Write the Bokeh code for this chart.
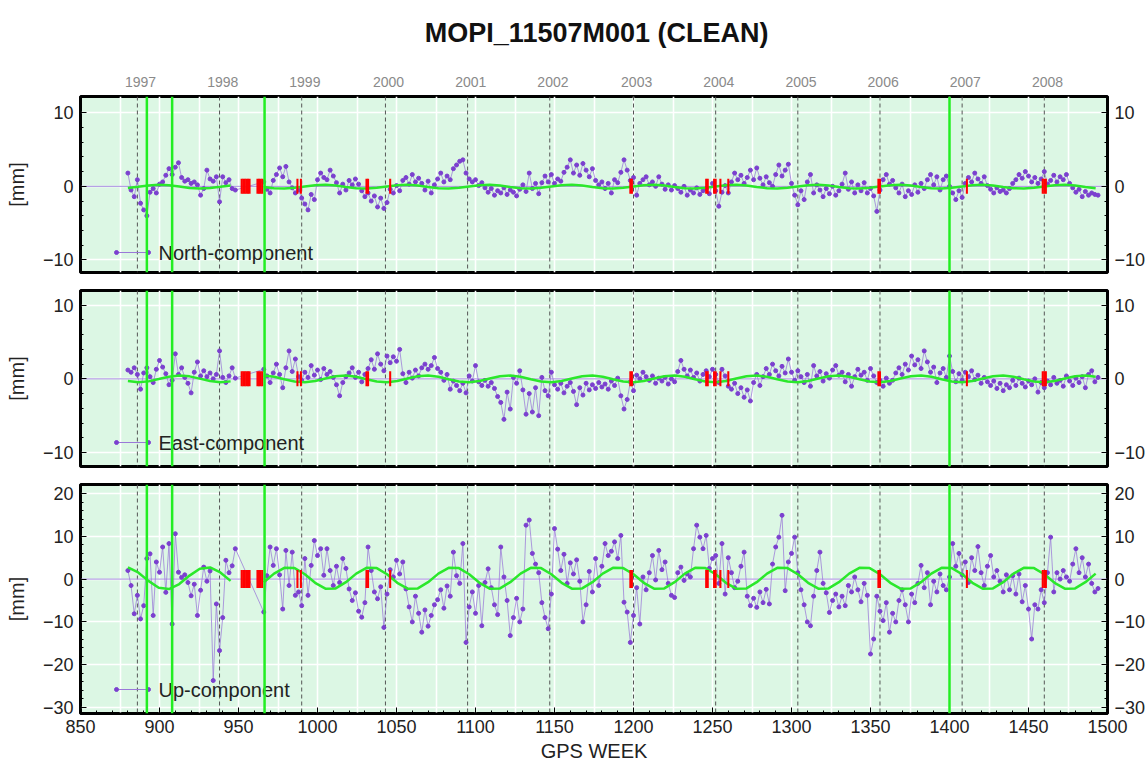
import numpy as np
from bokeh.plotting import figure
from bokeh.layouts import column
from bokeh.models import (Range1d, LinearAxis, FixedTicker, SingleIntervalTicker, Span)
from bokeh.embed import file_html
from bokeh.resources import INLINE
from bokeh.core.properties import value

# ---------------- data ----------------
TITLE = "MOPI_11507M001 (CLEAN)"
year_labels = ["1997", "1998", "1999", "2000", "2001", "2002", "2003", "2004", "2005", "2006", "2007", "2008"]
year_weeks = [886, 938, 990, 1043, 1095, 1147, 1200, 1252, 1304, 1356, 1408, 1460]
break_weeks = [892, 908, 966.5, 1400]          # green vertical lines
offset_weeks = [952, 953, 954, 955, 956, 957, 962, 963, 964, 965, 987.3, 989.5,
                1031, 1032, 1046, 1198, 1199, 1246, 1247, 1251, 1252, 1255, 1260,
                1355, 1356, 1411, 1459, 1460, 1461]   # red markers
components = ["North-component", "East-component", "Up-component"]

weeks = list(range(880, 949, 2)) + list(range(966, 1495, 2))

north = [
    1.8, -0.5, -1.4, 0.9, -2.3, -3.2, -4.0, -0.8, -0.3, -0.9,
    0.3, 0.6, 1.5, 2.4, 1.6, 2.6, 3.2, 1.2, 0.7, 0.9,
    0.4, 0.6, 0.2, -1.2, -0.3, 2.2, 1.0, 0.7, 1.3, -2.1,
    1.3, 0.5, 0.9, -0.3, -0.5,
    0.6, -0.4, -0.9, 0.8, 1.6, 2.5, 1.3, 2.7, 0.6, -0.2,
    -0.9, -0.5, -1.6, -2.4, -3.2, -1.1, -1.8, 0.9, 1.8, 1.2,
    0.9, 2.2, 1.4, 0.5, -0.9, 0.3, -0.5, 0.8, 0.2, 1.0,
    0.3, -0.6, -1.4, -0.9, -2.0, -1.3, -2.8, -1.6, -3.0, -2.2,
    -0.4, -0.9, 0.1, -0.6, 0.8, 1.2, 0.3, 1.6, 0.6, 1.1,
    0.4, -0.5, 0.7, -0.9, 0.2, 1.0, 1.8, 0.6, 1.4, 0.9,
    2.4, 2.9, 3.4, 3.6, 1.8, 1.0, 0.6, 0.9, 0.1, 0.5,
    -0.2, -0.8, -0.3, -1.2, -0.6, -0.9, -0.2, -1.1, -0.5, -0.8,
    -1.3, -0.4, 0.2, -0.7, 1.8, -0.3, 0.4, -1.0, 0.5, 1.4,
    0.6, 1.6, 0.4, 1.0, 0.7, 1.9, 2.6, 3.6, 1.8, 2.9,
    1.5, 3.1, 2.2, 1.3, 2.4, 0.8, 0.2, 0.6, -0.3, 0.4,
    -0.9, 0.9, 0.5, 1.9, 3.6, 2.2, 0.8, 1.2, -1.2, 0.4,
    0.9, 1.3, 0.2, 0.6, 0.0, 1.3, 0.3, -0.4, 0.2, -0.5,
    0.1, -0.3, -0.8, 0.0, -1.2, -0.5, -0.9, -0.2, -1.1, -0.6,
    -0.3, -1.0, 0.4, -0.6, -2.7, -0.8, 0.1, -0.9, 0.6, 1.8,
    0.9, 1.5, 0.4, 1.2, 2.2, 0.9, 2.5, 1.1, 0.2, 1.3,
    0.5, 0.0, 1.6, 2.9, 1.4, 2.2, 3.0, 0.4, -1.2, -2.5,
    -0.6, -1.8, 0.6, 1.6, -0.9, 0.2, -0.5, -1.4, -0.3, -1.0,
    0.0, -1.2, -0.6, 0.3, 1.8, -0.4, 0.6, -0.9, 0.2, -0.6,
    0.5, -0.9, -0.3, -1.3, -3.4, -0.5, 0.9, 1.6, 0.3, 0.8,
    -0.2, -0.9, 0.3, -1.4, -0.6, -1.1, 0.2, -0.8, 0.4, -0.3,
    0.9, 1.6, 0.2, 1.3, -0.5, 0.9, 1.4, 0.0, -0.9, -1.8,
    -0.6, -1.5, 0.4, 1.2, 0.6, 1.8, 1.0, 0.4, 1.3, 0.1,
    -0.4, -0.9, -0.2, -0.7, -0.5, -0.9, -0.3, 0.4, 0.9, 1.6,
    1.1, 2.0, 1.4, 0.6, 1.2, 0.4, 1.0, 2.0, 0.3, 0.8,
    1.5, 0.6, 1.3, 0.9, 1.6, 0.4, -0.2, -0.8, -0.4, -1.4,
    -0.7, -1.2, -0.9, -1.1, -1.2,
]

east = [
    1.2, 0.9, 1.5, 0.6, -1.4, 0.8, 1.5, 0.3, -0.5, 1.3,
    2.5, 1.6, 0.7, -0.8, -0.2, 3.4, 0.6, 1.5, 0.2, -0.6,
    -1.9, 0.9, 2.3, 0.4, 1.1, 0.3, 0.8, 0.0, 0.6, 3.8,
    0.2, -0.5, 0.4, 1.5, 0.1,
    1.3, 0.4, -0.5, 0.8, 2.0, 0.6, -1.2, 1.5, 3.8, 1.0,
    2.7, 0.3, -0.2, 0.9, 0.2, 1.8, 0.5, 1.2, -0.1, 1.4,
    0.6, 1.0, 0.2, -0.8, -2.3, -0.5, 0.3, 0.8, 1.5, 0.2,
    0.9, -0.4, 0.6, 1.4, 2.6, 1.3, 3.4, 2.0, 1.1, 3.1,
    2.2, 3.0, 2.4, 4.0, 0.7, -0.5, 0.9, 0.1, 1.2, 0.4,
    1.5, 2.0, 1.3, 1.8, 2.9, 1.4, 0.9, -0.2, 0.6, -1.4,
    -0.3, -0.9, -1.6, -0.6, -1.9, 0.4, -0.3, 1.8, -0.4, -0.9,
    -0.2, -1.0, -0.5, -1.3, -2.4, -3.2, -5.5, -1.8, -4.1, 0.2,
    -0.6, 1.1, -1.5, -4.8, -2.0, -4.5, -1.2, -5.0, 0.2, -1.6,
    -2.3, 0.9, -0.8, -1.4, -0.6, -1.9, -1.0, -0.5, -1.7, -3.5,
    -1.2, -2.2, -0.6, -1.5, -0.8, -1.3, -0.5, -1.1, -0.7, -1.4,
    -0.3, -0.9, 0.1, -2.3, -4.1, -2.8, -0.4, -1.6, 0.5, 0.0,
    0.9, 0.3, -0.2, 0.4, -0.6, 0.1, -0.3, 0.2, -0.7, 0.0,
    -0.4, 1.0, 2.5, 1.3, 0.4, 1.2, 0.2, 0.8, -0.3, 0.6,
    1.1, 0.3, 1.3, 0.6, -0.5, 1.3, 0.4, -1.0, -1.4, -0.6,
    -2.0, -1.2, -2.5, -1.5, -3.0, -0.5, 0.6, -0.9, 0.3, 1.4,
    0.6, 2.0, 1.1, 0.4, 1.7, 0.8, 2.7, 0.9, -0.2, 1.1,
    0.3, -0.5, 0.6, -1.0, 1.8, 0.4, 1.0, -0.3, 0.7, 0.1,
    1.2, 1.8, 0.5, 0.9, -0.4, 0.6, -1.0, 0.3, 1.3, 0.5,
    0.9, -0.2, 1.4, 0.4, -0.5, -0.2, -1.0, 0.1, -0.6, -0.2,
    0.8, 1.5, 0.6, 2.0, 1.2, 3.1, 1.9, 2.6, 1.4, 3.8,
    2.3, 0.9, 1.6, -0.5, 0.8, 1.4, 0.2, 3.1, 1.0, -0.4,
    0.7, -0.2, 0.9, 0.3, 1.1, -0.1, 0.5, -0.6, 0.2, -0.4,
    -0.9, -0.3, -1.3, -0.6, -1.6, -0.8, -1.2, -0.2, -0.9, 0.1,
    -0.6, -1.1, -0.3, -0.8, 0.0, -1.8, -0.5, -1.2, -0.3, -0.8,
    0.2, -0.6, -0.2, -1.0, 0.4, -0.3, -0.9, 0.1, -0.5, 0.3,
    -1.2, 0.6, 1.1, -0.4, 0.2,
]

up = [
    2.0, -1.5, -8.1, -3.8, -9.3, -6.2, 4.8, 5.9, -8.5, 4.0,
    1.6, 7.5, -3.1, 8.3, -10.5, 10.6, 1.6, 0.4, 1.0, -0.8,
    -3.9, -1.2, -8.5, -2.6, 2.8, -0.5, 1.9, -23.7, -5.8, -16.7,
    -9.0, 4.4, 1.5, 3.1, 7.1,
    -7.7, 0.8, 7.5, 3.2, 7.1, 1.0, -7.0, 6.7, -1.5, 6.3,
    -3.8, -3.0, -6.2, 4.8, -3.8, 3.2, 9.0, 5.5, 7.1, 0.9,
    7.1, 2.0, -1.5, 3.0, -0.8, 4.8, 2.5, -2.3, -5.0, -3.2,
    -7.5, -8.9, -5.5, 7.5, 2.0, -3.0, -4.6, -1.8, -11.3, -3.5,
    2.2, 0.5, 4.4, 1.2, 4.0, -2.3, -6.5, -10.0, -4.0, -8.0,
    -12.4, -7.2, -11.0, -8.5, -6.0, -4.8, -2.5, -6.8, -1.6, -4.0,
    6.3, 0.8, -1.0, 8.3, -14.8, -6.5, -3.0, -8.0, -1.5, -10.9,
    -0.8, 2.4, -2.0, -6.0, -8.3, 7.5, 0.5, -5.0, -13.2, -9.0,
    -4.5, -10.0, -7.0, 12.6, 13.8, 6.0, 3.5, 1.5, -5.5, -9.0,
    -11.6, -3.5, 11.8, 7.0, 2.0, 5.8, -1.0, 3.8, 1.2, 4.5,
    -0.5, -10.0, -6.0, 1.8, -3.0, 4.8, -1.5, 3.0, 8.3, 5.5,
    6.5, 8.7, 4.8, 10.2, -5.4, -7.7, -14.8, -8.5, -2.0, -10.5,
    0.5, -2.5, 1.5, 5.5, -0.2, 6.7, 2.2, 4.0, -1.0, -3.8,
    -4.3, 1.5, 2.8, -0.3, 1.2, 0.5, 7.1, 12.6, 9.8, 7.1,
    10.2, 2.5, 4.8, 5.5, -1.0, 8.3, -3.5, 5.0, 1.5, -2.0,
    -0.5, 3.0, 6.3, -4.0, -6.2, -4.5, -6.6, -3.0, -5.5, -2.4,
    -5.8, 3.5, 7.5, 9.8, 14.9, -2.7, 4.0, 6.0, 9.8, 1.5,
    -2.5, -6.0, -10.0, -10.9, -4.0, 2.0, 6.3, -1.0, -3.2, -7.8,
    -5.0, -3.5, -6.5, -4.0, -6.2, -1.5, -3.0, 0.5, -2.5, -5.3,
    -1.0, -3.8, -17.5, -14.0, -4.0, -7.5, -9.7, -5.5, -12.4, -8.0,
    -10.0, -5.0, -2.5, -6.0, -10.0, -3.5, -5.5, -1.0, 3.2, -2.0,
    1.5, -6.0, -0.5, -3.0, 1.2, -1.5, -2.5, 0.5, 8.3, 3.0,
    6.0, 1.0, 4.0, -0.8, 5.0, 2.0, 7.6, 1.5, -1.5, 3.0,
    5.5, 0.5, 2.0, -0.5, -3.0, 1.0, -2.5, 0.8, -3.5, 1.2,
    -5.3, -1.5, -7.0, -14.0, -6.0, -7.0, -2.5, -5.5, 1.5, 9.8,
    -3.0, 1.5, 0.0, 2.0, 0.5, -0.5, 3.5, 7.1, 1.5, 5.0,
    0.5, 3.5, -1.0, -3.0, -2.2,
]

# fitted model (green curve), read every 6.5 weeks; gap 948-966
fit_weeks_a = list(np.arange(880, 949, 6.5))
fit_weeks_b = list(np.arange(966, 1495, 6.5))

north_fit_a = [-0.24, -0.07, 0.12, 0.20, 0.14, -0.03, -0.22, -0.30, -0.24, -0.07, 0.12]
north_fit_b = [
    -0.08, -0.25, -0.30, -0.20, -0.02, 0.15, 0.20, 0.10,
    -0.08, -0.25, -0.30, -0.20, -0.02, 0.15, 0.20, 0.10,
    -0.08, -0.25, -0.30, -0.20, -0.02, 0.15, 0.20, 0.10,
    -0.08, -0.25, -0.30, -0.20, -0.02, 0.15, 0.20, 0.10,
    -0.08, -0.25, -0.30, -0.20, -0.02, 0.15, 0.20, 0.10,
    -0.08, -0.25, -0.30, -0.20, -0.02, 0.15, 0.20, 0.10,
    -0.08, -0.25, -0.30, -0.20, -0.02, 0.15, 0.20, 0.10,
    -0.08, -0.25, -0.30, -0.20, -0.02, 0.15, 0.20, 0.10,
    -0.08, -0.25, -0.30, -0.20, -0.02, 0.15, 0.20, 0.10,
    -0.08, -0.25, -0.30, -0.20, -0.02, 0.15, 0.20, 0.10,
    -0.08, -0.25,
]
east_fit_a = [-0.30, -0.45, -0.34, -0.03, 0.30, 0.45, 0.34, 0.03, -0.30, -0.45, -0.34]
east_fit_b = [
    0.45, 0.28, -0.05, -0.35, -0.45, -0.28, 0.05, 0.35,
    0.45, 0.28, -0.05, -0.35, -0.45, -0.28, 0.05, 0.35,
    0.45, 0.28, -0.05, -0.35, -0.45, -0.28, 0.05, 0.35,
    0.45, 0.28, -0.05, -0.35, -0.45, -0.28, 0.05, 0.35,
    0.45, 0.28, -0.05, -0.35, -0.45, -0.28, 0.05, 0.35,
    0.45, 0.28, -0.05, -0.35, -0.45, -0.28, 0.05, 0.35,
    0.45, 0.28, -0.05, -0.35, -0.45, -0.28, 0.05, 0.35,
    0.45, 0.28, -0.05, -0.35, -0.45, -0.28, 0.05, 0.35,
    0.45, 0.28, -0.05, -0.35, -0.45, -0.28, 0.05, 0.35,
    0.45, 0.28, -0.05, -0.35, -0.45, -0.28, 0.05, 0.35,
    0.45, 0.28,
]
up_fit_a = [2.72, 1.55, -0.42, -2.02, -2.32, -1.15, 0.82, 2.42, 2.72, 1.55, -0.42]
up_fit_b = [
    -0.72, 1.27, 2.63, 2.57, 1.12, -0.87, -2.23, -2.17,
    -0.72, 1.27, 2.63, 2.57, 1.12, -0.87, -2.23, -2.17,
    -0.72, 1.27, 2.63, 2.57, 1.12, -0.87, -2.23, -2.17,
    -0.72, 1.27, 2.63, 2.57, 1.12, -0.87, -2.23, -2.17,
    -0.72, 1.27, 2.63, 2.57, 1.12, -0.87, -2.23, -2.17,
    -0.72, 1.27, 2.63, 2.57, 1.12, -0.87, -2.23, -2.17,
    -0.72, 1.27, 2.63, 2.57, 1.12, -0.87, -2.23, -2.17,
    -0.72, 1.27, 2.63, 2.57, 1.12, -0.87, -2.23, -2.17,
    -0.72, 1.27, 2.63, 2.57, 1.12, -0.87, -2.23, -2.17,
    -0.72, 1.27, 2.63, 2.57, 1.12, -0.87, -2.23, -2.17,
    -0.72, 1.27,
]

assert len(north) == len(weeks) == len(east) == len(up), (len(north), len(east), len(up), len(weeks))
assert len(north_fit_b) == len(fit_weeks_b) == len(east_fit_b) == len(up_fit_b)
assert len(north_fit_a) == len(fit_weeks_a)

# ---------------- style ----------------
FONT = "Liberation Sans"
BG = "#dcf7e4"
DOT = "#7b40cf"
LINEC = "#9a78d8"
GREEN = "#2be82b"
VGREEN = "#22ee22"
FRAME_W = 1027
PAGE_W = 1146


def make_panel(label, vals, fit_a, fit_b, y_lo, y_hi, frame_h, b_top, b_bottom, mark_h, leg_y):
    p = figure(frame_width=FRAME_W, frame_height=frame_h,
               x_range=Range1d(850, 1500), y_range=Range1d(y_lo, y_hi),
               output_backend="svg", toolbar_location=None,
               min_border_left=80, min_border_right=39,
               min_border_top=b_top, min_border_bottom=b_bottom,
               background_fill_color=BG, border_fill_color="white",
               outline_line_color="black", outline_line_width=3)

    # axes
    p.yaxis.ticker = SingleIntervalTicker(interval=10, num_minor_ticks=5)
    p.yaxis.axis_label = "[mm]"
    lax = p.yaxis[0]
    lax.axis_label_text_font = FONT
    lax.axis_label_text_font_size = "20px"
    lax.axis_label_text_font_style = "normal"
    lax.axis_label_text_color = "#222222"
    lax.axis_label_standoff = 12
    rax = LinearAxis(ticker=SingleIntervalTicker(interval=10, num_minor_ticks=5))
    p.add_layout(rax, "right")
    for ax in [lax, rax]:
        ax.major_label_text_font = FONT
        ax.major_label_text_font_size = "18px"
        ax.major_label_text_color = "#222222"
        ax.major_tick_in = 6
        ax.major_tick_out = 0
        ax.minor_tick_in = 3
        ax.minor_tick_out = 0
        ax.axis_line_color = "black"
        ax.axis_line_width = 2
        ax.major_label_standoff = 7

    p.xaxis.ticker = SingleIntervalTicker(interval=50, num_minor_ticks=5)
    p.xaxis.major_label_text_font = FONT
    p.xaxis.major_label_text_font_size = "18px"
    p.xaxis.major_label_text_color = "#222222"
    p.xaxis.major_tick_in = 6
    p.xaxis.major_tick_out = 0
    p.xaxis.minor_tick_in = 3
    p.xaxis.minor_tick_out = 0
    p.xaxis.axis_line_width = 2
    p.xaxis.major_label_standoff = 6

    # grids
    p.xgrid.ticker = SingleIntervalTicker(interval=25)
    p.ygrid.ticker = SingleIntervalTicker(interval=10)
    p.xgrid.grid_line_color = "white"
    p.ygrid.grid_line_color = "white"
    p.xgrid.grid_line_width = 1.6
    p.ygrid.grid_line_width = 1.6

    # year lines and zero line
    for w in year_weeks:
        p.add_layout(Span(location=w, dimension="height", line_color="#555555",
                          line_dash="4 3", line_width=1, level="underlay"))
    p.add_layout(Span(location=0, dimension="width", line_color="#a88ee0",
                      line_width=1, level="underlay"))

    # data
    p.line(weeks, vals, line_color=LINEC, line_width=1, line_alpha=0.75)
    p.scatter(weeks, vals, size=4, fill_color=DOT, line_color=DOT)
    p.line(fit_weeks_a, fit_a, line_color=GREEN, line_width=2.5)
    p.line(fit_weeks_b, fit_b, line_color=GREEN, line_width=2.5)
    p.rect(x=offset_weeks, y=[0] * len(offset_weeks), width=1.3, height=mark_h,
           height_units="screen", fill_color="#ff0000", line_color=None)

    for w in break_weeks:
        p.add_layout(Span(location=w, dimension="height", line_color=VGREEN, line_width=2.5))

    # legend key (pixel space inside the frame)
    p.extra_x_ranges = {"px": Range1d(0, FRAME_W)}
    p.extra_y_ranges = {"px": Range1d(0, frame_h)}
    p.line([36, 68], [leg_y, leg_y], x_range_name="px", y_range_name="px",
           line_color=LINEC, line_width=1.2)
    p.scatter([36, 68], [leg_y, leg_y], x_range_name="px", y_range_name="px",
              size=4, fill_color=DOT, line_color=DOT)
    p.text([78], [leg_y], text=[label], x_range_name="px", y_range_name="px",
           text_font=value(FONT), text_font_size="20px", text_color="#222222",
           text_baseline="middle", text_align="left")
    return p


# title strip (its own small figure so the title can sit high on the page)
TITLE_H = 50
pt = figure(width=PAGE_W, height=TITLE_H, x_range=Range1d(0, PAGE_W), y_range=Range1d(0, TITLE_H),
            x_axis_type=None, y_axis_type=None,
            output_backend="svg", toolbar_location=None,
            min_border=0, min_border_left=0, min_border_right=0, min_border_top=0, min_border_bottom=0,
            outline_line_color=None, background_fill_color="white", border_fill_color="white")
pt.grid.visible = False
pt.text([385], [TITLE_H - 32], text=[TITLE], text_font=value(FONT),
        text_font_size="27px", text_font_style="bold", text_color="#111111",
        text_align="left", text_baseline="middle")

p1 = make_panel(components[0], north, north_fit_a, north_fit_b, -11.7, 12.2, 176, 96 - TITLE_H, 9, 15, 20)
p2 = make_panel(components[1], east, east_fit_a, east_fit_b, -11.9, 12.0, 176, 9, 9, 15, 24)
p3 = make_panel(components[2], up, up_fit_a, up_fit_b, -31.4, 22.1, 229, 9, 56, 18, 24)

for p in (p1, p2):
    p.xaxis.visible = False

p3.xaxis.axis_label = "GPS WEEK"
p3.xaxis.axis_label_text_font = FONT
p3.xaxis.axis_label_text_font_size = "20px"
p3.xaxis.axis_label_text_font_style = "normal"
p3.xaxis.axis_label_text_color = "#222222"
p3.xaxis.axis_label_standoff = 4

# year labels above the first panel
year_ticks = [w + 2 for w in year_weeks]
yax = LinearAxis(ticker=FixedTicker(ticks=year_ticks, minor_ticks=[]),
                 major_label_overrides={t: s for t, s in zip(year_ticks, year_labels)},
                 axis_line_color=None, major_tick_line_color=None, minor_tick_line_color=None,
                 major_label_text_color="#8a8a8a", major_label_text_font=FONT,
                 major_label_text_font_size="14px", major_label_standoff=4)
p1.add_layout(yax, "above")

layout = column(pt, p1, p2, p3, spacing=0)
open("out.html", "w").write(file_html(layout, INLINE))
